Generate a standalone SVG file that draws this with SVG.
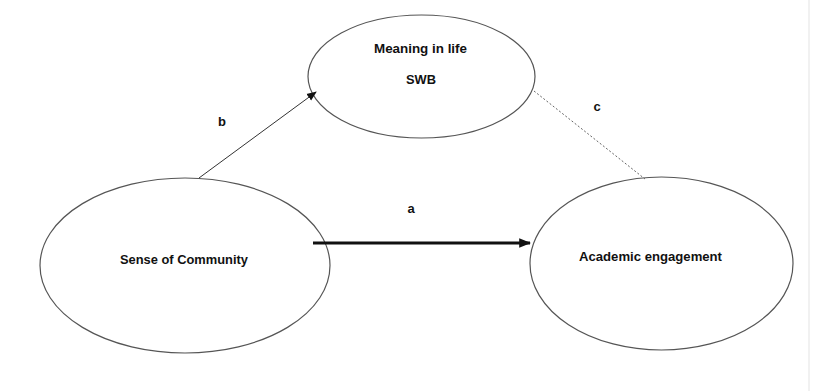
<svg xmlns="http://www.w3.org/2000/svg" width="827" height="391" viewBox="0 0 827 391">
<style>
.node{fill:#fff;stroke:#555;stroke-width:1.2}
.t{font-family:"Liberation Sans",Arial,sans-serif;font-weight:bold;font-size:13px;fill:#111;text-anchor:middle}
</style>
<defs>
<marker id="ah" viewBox="0 0 10 10" refX="9" refY="5" markerWidth="10" markerHeight="10" markerUnits="userSpaceOnUse" orient="auto"><path d="M0,1 L10,5 L0,9 Z" fill="#111"/></marker>
<marker id="ahb" viewBox="0 0 10 10" refX="9" refY="5" markerWidth="4" markerHeight="4" orient="auto"><path d="M0,1 L10,5 L0,9 Z" fill="#111"/></marker>
</defs>
<rect width="827" height="391" fill="#fff"/>
<line x1="809" y1="0" x2="809" y2="391" stroke="#ececec" stroke-width="1.5"/>
<g id="meaning">
<ellipse class="node" cx="421.5" cy="76.5" rx="113.5" ry="61.5"/>
<text class="t" x="420.5" y="53" textLength="93" lengthAdjust="spacingAndGlyphs">Meaning in life</text>
<text class="t" x="421" y="84" textLength="30" lengthAdjust="spacingAndGlyphs">SWB</text>
</g>
<g id="community">
<ellipse class="node" cx="185" cy="265.5" rx="145" ry="87.5"/>
<text class="t" x="184" y="264" textLength="128" lengthAdjust="spacingAndGlyphs">Sense of Community</text>
</g>
<g id="engagement">
<ellipse class="node" cx="661.5" cy="263.5" rx="131.5" ry="86.5"/>
<text class="t" x="650.5" y="261" textLength="143" lengthAdjust="spacingAndGlyphs">Academic engagement</text>
</g>
<g id="connectors">
<line x1="199" y1="178" x2="316" y2="92" stroke="#333" stroke-width="1" marker-end="url(#ah)"/>
<line x1="534" y1="91" x2="645" y2="179" stroke="#666" stroke-width="1" stroke-dasharray="2,2"/>
<line x1="313" y1="243" x2="530" y2="243" stroke="#111" stroke-width="3" marker-end="url(#ahb)"/>
<text class="t" x="222" y="126">b</text>
<text class="t" x="597" y="111">c</text>
<text class="t" x="411" y="213">a</text>
</g>
</svg>
